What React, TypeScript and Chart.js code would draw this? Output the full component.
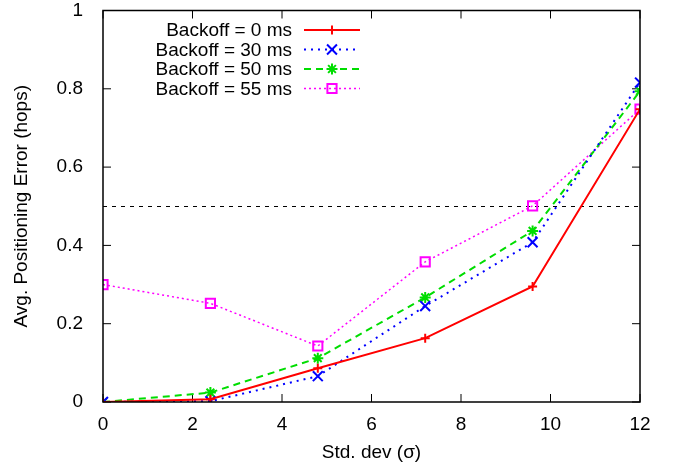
import React, { useEffect, useRef } from "react";
import { Chart, registerables } from "chart.js";

Chart.register(...registerables);

const xValues = [0, 2.4, 4.8, 7.2, 9.6, 12];
const backoff0 = [0, 0.007, 0.086, 0.163, 0.295, 0.748];
const backoff30 = [0, 0.002, 0.066, 0.245, 0.408, 0.816];
const backoff50 = [0, 0.024, 0.112, 0.267, 0.437, 0.794];
const backoff55 = [0.3, 0.252, 0.143, 0.358, 0.501, 0.748];
const seriesLabels = ["Backoff = 0 ms", "Backoff = 30 ms", "Backoff = 50 ms", "Backoff = 55 ms"];
const referenceLevel = 0.5;
const xTicks = [0, 2, 4, 6, 8, 10, 12];
const yTicks = [0, 0.2, 0.4, 0.6, 0.8, 1];

const FONT = "'Liberation Sans', Arial, Helvetica, sans-serif";
const FS = 19;

export default function App() {
  const ref = useRef<HTMLCanvasElement | null>(null);

  useEffect(() => {
    document.body.style.margin = "0";
    const canvas = ref.current;
    if (!canvas) return;

    const styles = [
      { color: "#ff0000", dash: [] as number[], point: "cross", radius: 4.5, width: 2 },
      { color: "#0000ff", dash: [2, 5], point: "crossRot", radius: 7, width: 2 },
      { color: "#00dd00", dash: [7, 5], point: "star", radius: 5.5, width: 2 },
      { color: "#ff00ff", dash: [2, 3], point: "rect", radius: 6.5, width: 1.5 },
    ];
    const values = [backoff0, backoff30, backoff50, backoff55];

    const datasets = values.map((vals, i) => ({
      label: seriesLabels[i],
      data: vals.map((v, j) => ({ x: xValues[j], y: v })),
      borderColor: styles[i].color,
      backgroundColor: "rgba(0,0,0,0)",
      borderWidth: styles[i].width,
      borderDash: styles[i].dash,
      pointStyle: styles[i].point as any,
      pointRadius: styles[i].radius,
      pointBorderWidth: 2,
      pointBorderColor: styles[i].color,
      pointBackgroundColor: "rgba(0,0,0,0)",
      tension: 0,
      fill: false,
    }));

    const rowY = [30, 49.5, 69, 88.5];

    const framePlugin = {
      id: "frameAndLegend",
      beforeDatasetsDraw(chart: any) {
        const { ctx, chartArea } = chart;
        const xs = chart.scales.x;
        const ys = chart.scales.y;
        ctx.save();
        ctx.strokeStyle = "#000";
        ctx.lineWidth = 1;
        ctx.setLineDash([4, 5]);
        const yy = Math.round(ys.getPixelForValue(referenceLevel)) + 0.5;
        ctx.beginPath();
        ctx.moveTo(chartArea.left, yy);
        ctx.lineTo(chartArea.right, yy);
        ctx.stroke();
        ctx.setLineDash([]);
        const tl = 8;
        ctx.lineWidth = 1;
        xTicks.forEach((t) => {
          const px = xs.getPixelForValue(t);
          ctx.beginPath();
          ctx.moveTo(px, chartArea.bottom);
          ctx.lineTo(px, chartArea.bottom - tl);
          ctx.moveTo(px, chartArea.top);
          ctx.lineTo(px, chartArea.top + tl);
          ctx.stroke();
        });
        yTicks.forEach((t) => {
          const py = ys.getPixelForValue(t);
          ctx.beginPath();
          ctx.moveTo(chartArea.left, py);
          ctx.lineTo(chartArea.left + tl, py);
          ctx.moveTo(chartArea.right, py);
          ctx.lineTo(chartArea.right - tl, py);
          ctx.stroke();
        });
        ctx.restore();
      },
      afterDraw(chart: any) {
        const { ctx, chartArea } = chart;
        ctx.save();
        ctx.strokeStyle = "#000";
        ctx.lineWidth = 1.5;
        ctx.strokeRect(chartArea.left, chartArea.top, chartArea.right - chartArea.left, chartArea.bottom - chartArea.top);
        ctx.font = `${FS}px ${FONT}`;
        ctx.fillStyle = "#000";
        ctx.textAlign = "right";
        ctx.textBaseline = "middle";
        seriesLabels.forEach((lab, i) => {
          const y = rowY[i];
          ctx.fillText(lab, 292, y + 1);
          const st = styles[i];
          ctx.strokeStyle = st.color;
          ctx.lineWidth = st.width;
          ctx.setLineDash(st.dash);
          ctx.beginPath();
          ctx.moveTo(304, y);
          ctx.lineTo(360, y);
          ctx.stroke();
          ctx.setLineDash([]);
        });
        ctx.restore();
        seriesLabels.forEach((_, i) => {
          const meta = chart.getDatasetMeta(i);
          const el = meta.data[0];
          if (!el) return;
          ctx.save();
          const ox = el.x, oy = el.y;
          el.x = 332; el.y = rowY[i];
          el.draw(ctx, { left: 0, right: 676, top: 0, bottom: 468 });
          el.x = ox; el.y = oy;
          ctx.restore();
        });
      },
    };

    const fmt = (v: any) => String(Math.round(Number(v) * 10) / 10);

    const chart = new Chart(canvas, {
      type: "line",
      data: { datasets: datasets as any },
      options: {
        animation: false,
        responsive: false,
        layout: { padding: { top: 10.5, right: 36, left: 0, bottom: 0 } },
        plugins: { legend: { display: false }, tooltip: { enabled: false } },
        scales: {
          x: {
            type: "linear",
            min: 0,
            max: 12,
            afterBuildTicks: (s: any) => { s.ticks = xTicks.map((v) => ({ value: v })); },
            afterFit: (s: any) => { s.height = 66; },
            grid: { display: false },
            border: { display: false },
            ticks: { color: "#000", font: { family: FONT, size: FS }, padding: 3, callback: fmt },
            title: { display: true, text: "Std. dev (σ)", color: "#000", font: { family: FONT, size: FS }, padding: { top: 0, bottom: 4 } },
          },
          y: {
            type: "linear",
            min: 0,
            max: 1,
            afterBuildTicks: (s: any) => { s.ticks = yTicks.map((v) => ({ value: v })); },
            afterFit: (s: any) => { s.width = 103; s.paddingTop = 0; s.paddingBottom = 0; },
            grid: { display: false },
            border: { display: false },
            ticks: { color: "#000", font: { family: FONT, size: FS }, padding: 12, callback: fmt },
            title: { display: true, text: "Avg. Positioning Error (hops)", color: "#000", font: { family: FONT, size: FS }, padding: { top: 10, bottom: 0 } },
          },
        },
      },
      plugins: [framePlugin],
    });

    return () => chart.destroy();
  }, []);

  return (
    <div style={{ width: 676, height: 468 }}>
      <canvas ref={ref} width={676} height={468} style={{ display: "block" }} />
    </div>
  );
}
